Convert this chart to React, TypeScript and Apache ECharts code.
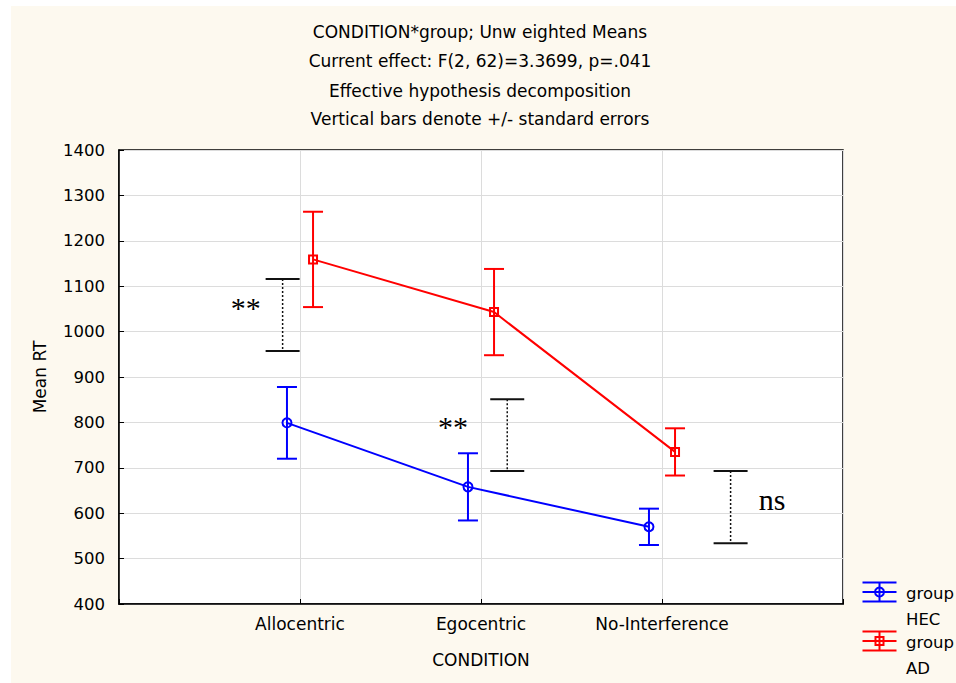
import React, { useEffect, useRef } from "react";
import * as echarts from "echarts";

// ---- data ----
const categories = ["Allocentric", "Egocentric", "No-Interference"];
const hecMean = [799, 658, 570];
const hecSE = [79, 74, 40];
const adMean = [1159, 1043, 735];
const adSE = [105, 95, 52];

// significance brackets (data coordinates)
const bracketX = [0.904, 2.145, 3.379];
const bracketLow = [957, 693, 534];
const bracketHigh = [1116, 851, 693];
const markLabels = ["**", "**", "ns"];
const markLabelX = [0.7, 1.845, 3.608];
const markLabelY = [1054, 792, 631];

const titleLines = [
  "CONDITION*group; Unw eighted Means",
  "Current effect: F(2, 62)=3.3699, p=.041",
  "Effective hypothesis decomposition",
  "Vertical bars denote +/- standard errors",
];
const legendNames = ["group\nHEC", "group\nAD"];

const groupOffset = 0.072;
const SANS = "DejaVu Sans, Liberation Sans, Arial, sans-serif";
const SERIF = "Liberation Serif, Times New Roman, serif";
const BLUE = "#0000ff";
const RED = "#ff0000";

function errorBarSeries(means: number[], se: number[], offset: number, color: string) {
  return {
    type: "custom",
    silent: true,
    z: 3,
    encode: { x: 0, y: [1, 2] },
    data: means.map((m, i) => [i + 1 + offset, m - se[i], m + se[i]]),
    renderItem: (params: any, api: any) => {
      const x = api.value(0);
      const pHi = api.coord([x, api.value(2)]);
      const pLo = api.coord([x, api.value(1)]);
      const w = 10;
      const st = { stroke: color, lineWidth: 2 };
      return {
        type: "group",
        children: [
          { type: "line", shape: { x1: pHi[0], y1: pHi[1], x2: pLo[0], y2: pLo[1] }, style: st },
          { type: "line", shape: { x1: pHi[0] - w, y1: pHi[1], x2: pHi[0] + w, y2: pHi[1] }, style: st },
          { type: "line", shape: { x1: pLo[0] - w, y1: pLo[1], x2: pLo[0] + w, y2: pLo[1] }, style: st },
        ],
      };
    },
  };
}

function legendIcon(cx: number, cy: number, color: string, kind: "circle" | "rect") {
  const st = { stroke: color, lineWidth: 2 };
  const children: any[] = [
    { type: "line", shape: { x1: cx - 17, y1: cy - 9.5, x2: cx + 17, y2: cy - 9.5 }, style: st },
    { type: "line", shape: { x1: cx - 17, y1: cy, x2: cx + 17, y2: cy }, style: st },
    { type: "line", shape: { x1: cx - 17, y1: cy + 9.5, x2: cx + 17, y2: cy + 9.5 }, style: st },
    { type: "line", shape: { x1: cx, y1: cy - 9.5, x2: cx, y2: cy + 9.5 }, style: st },
  ];
  if (kind === "circle") {
    children.push({ type: "circle", shape: { cx, cy, r: 4.5 }, style: { stroke: color, lineWidth: 2, fill: "none" } });
  } else {
    children.push({ type: "rect", shape: { x: cx - 4, y: cy - 4, width: 8, height: 8 }, style: { stroke: color, lineWidth: 2, fill: "none" } });
  }
  return { type: "group", children };
}

export default function App() {
  const ref = useRef<HTMLDivElement>(null);
  useEffect(() => {
    if (!ref.current) return;
    const chart = echarts.init(ref.current, null, { renderer: "svg" });
    const titleMid = [32, 61, 91, 119];
    const option: any = {
      animation: false,
      backgroundColor: "transparent",
      textStyle: { fontFamily: SANS },
      grid: {
        left: 119,
        right: 113,
        top: 150,
        bottom: 79,
        show: true,
        backgroundColor: "#ffffff",
        borderColor: "#000000",
        borderWidth: 1.5,
      },
      xAxis: {
        type: "value",
        min: 0,
        max: 4,
        interval: 1,
        name: "CONDITION",
        nameLocation: "middle",
        nameGap: 47,
        nameTextStyle: { fontSize: 17, color: "#000", fontFamily: SANS },
        axisLine: { show: true, lineStyle: { color: "#000", width: 1.5 } },
        axisTick: { show: true, inside: true, length: 5, lineStyle: { color: "#000" } },
        splitLine: { show: true, lineStyle: { color: "#dcdcdc", width: 1 } },
        axisLabel: {
          fontSize: 17,
          color: "#000",
          margin: 11,
          fontFamily: SANS,
          formatter: (v: number) => categories[v - 1] ?? "",
        },
      },
      yAxis: {
        type: "value",
        min: 400,
        max: 1400,
        interval: 100,
        name: "Mean RT",
        nameLocation: "middle",
        nameGap: 71,
        nameTextStyle: { fontSize: 17, color: "#000", fontFamily: SANS },
        axisLine: { show: true, lineStyle: { color: "#000", width: 1.5 } },
        axisTick: { show: true, inside: true, length: 5, lineStyle: { color: "#000" } },
        splitLine: { show: true, lineStyle: { color: "#dcdcdc", width: 1 } },
        axisLabel: {
          fontSize: 16.5,
          color: "#000",
          margin: 14,
          fontFamily: SANS,
          formatter: (v: number) => String(v),
        },
      },
      graphic: [
        ...titleLines.map((t, i) => ({
          type: "text",
          x: 480,
          y: titleMid[i],
          silent: true,
          style: { text: t, fontSize: 17, fontFamily: SANS, fill: "#000", align: "center", verticalAlign: "middle" },
        })),
        { ...legendIcon(879.5, 592, BLUE, "circle") },
        { ...legendIcon(879.5, 641, RED, "rect") },
        {
          type: "text",
          x: 906,
          y: 580,
          style: { text: legendNames[0], fontSize: 16.5, lineHeight: 26, fontFamily: SANS, fill: "#000", align: "left", verticalAlign: "top" },
        },
        {
          type: "text",
          x: 906,
          y: 629,
          style: { text: legendNames[1], fontSize: 16.5, lineHeight: 26, fontFamily: SANS, fill: "#000", align: "left", verticalAlign: "top" },
        },
      ],
      series: [
        // significance brackets
        {
          type: "custom",
          silent: true,
          z: 2,
          encode: { x: 0, y: [1, 2] },
          data: bracketX.map((x, i) => [x, bracketLow[i], bracketHigh[i]]),
          renderItem: (params: any, api: any) => {
            const x = api.value(0);
            const pHi = api.coord([x, api.value(2)]);
            const pLo = api.coord([x, api.value(1)]);
            const w = 17;
            const cap = { stroke: "#111", lineWidth: 2 };
            return {
              type: "group",
              children: [
                {
                  type: "line",
                  shape: { x1: pHi[0], y1: pHi[1], x2: pLo[0], y2: pLo[1] },
                  style: { stroke: "#111", lineWidth: 1.5, lineDash: [2, 2] },
                },
                { type: "line", shape: { x1: pHi[0] - w, y1: pHi[1], x2: pHi[0] + w, y2: pHi[1] }, style: cap },
                { type: "line", shape: { x1: pLo[0] - w, y1: pLo[1], x2: pLo[0] + w, y2: pLo[1] }, style: cap },
              ],
            };
          },
        },
        // significance labels
        {
          type: "custom",
          silent: true,
          z: 2,
          encode: { x: 0, y: 1 },
          data: markLabelX.map((x, i) => [x, markLabelY[i]]),
          renderItem: (params: any, api: any) => {
            const p = api.coord([api.value(0), api.value(1)]);
            return {
              type: "text",
              x: p[0],
              y: p[1],
              style: {
                text: markLabels[params.dataIndex],
                fontSize: 30,
                fontFamily: SERIF,
                fill: "#000",
                align: "center",
                verticalAlign: "middle",
              },
            };
          },
        },
        errorBarSeries(hecMean, hecSE, -groupOffset, BLUE),
        errorBarSeries(adMean, adSE, groupOffset, RED),
        {
          type: "line",
          name: "HEC",
          z: 4,
          data: hecMean.map((m, i) => [i + 1 - groupOffset, m]),
          symbol: "circle",
          symbolSize: 9,
          lineStyle: { color: BLUE, width: 2 },
          itemStyle: { color: "rgba(0,0,0,0)", borderColor: BLUE, borderWidth: 2 },
          silent: true,
        },
        {
          type: "line",
          name: "AD",
          z: 4,
          data: adMean.map((m, i) => [i + 1 + groupOffset, m]),
          symbol: "rect",
          symbolSize: 8,
          lineStyle: { color: RED, width: 2 },
          itemStyle: { color: "rgba(0,0,0,0)", borderColor: RED, borderWidth: 2 },
          silent: true,
        },
      ],
    };
    chart.setOption(option);
    return () => chart.dispose();
  }, []);

  return (
    <div style={{ position: "fixed", left: 0, top: 0, width: 956, height: 683, background: "#ffffff" }}>
      <div style={{ position: "absolute", left: 11, top: 6, right: 0, bottom: 0, background: "#fdf9ef" }} />
      <div ref={ref} style={{ position: "absolute", left: 0, top: 0, width: 956, height: 683 }} />
    </div>
  );
}
